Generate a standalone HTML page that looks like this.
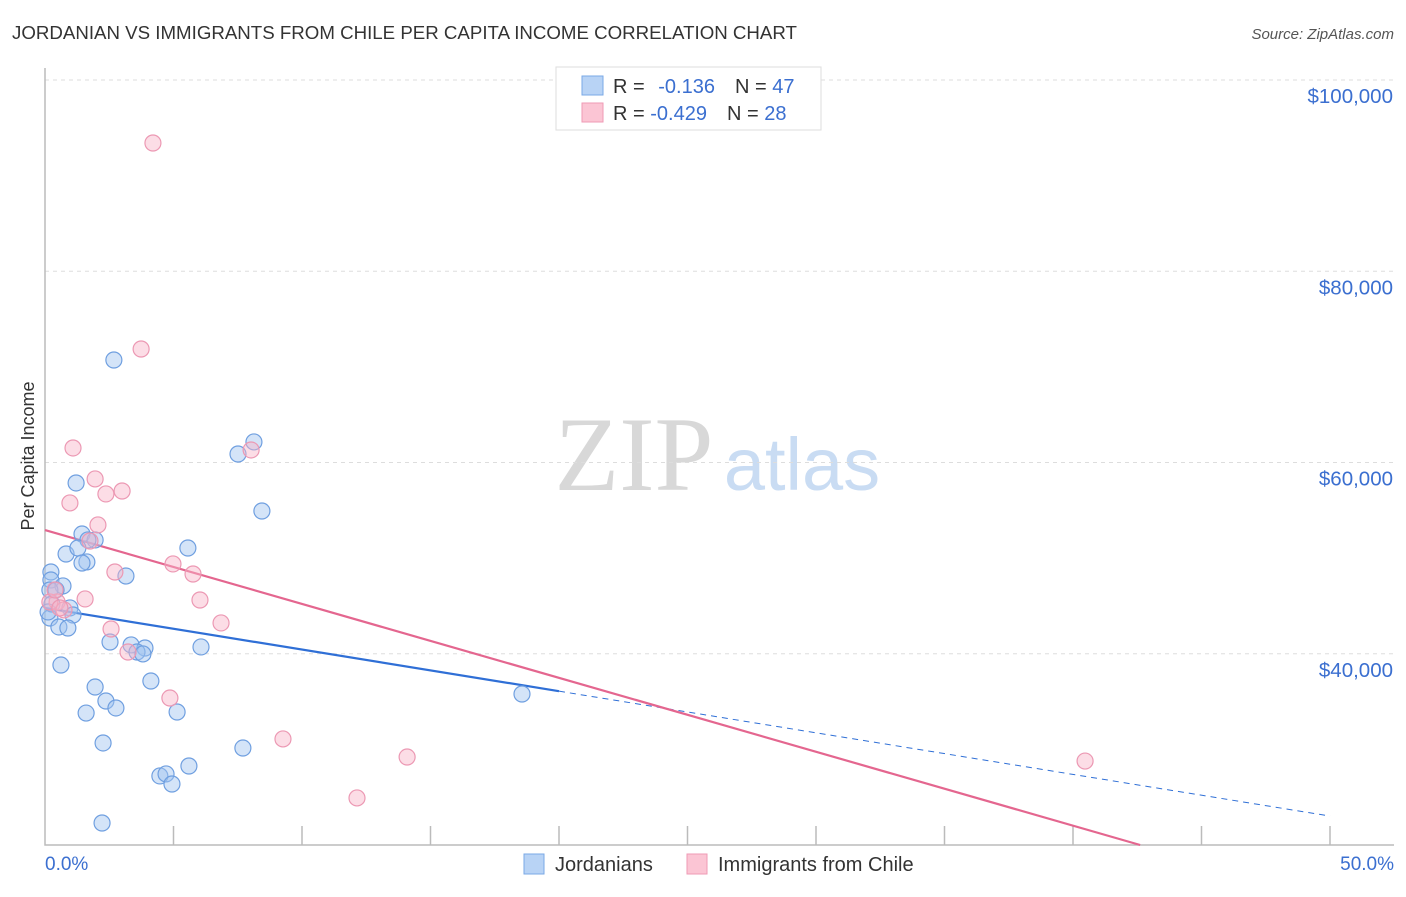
<!DOCTYPE html>
<html><head><meta charset="utf-8">
<style>
body{margin:0;background:#fff;font-family:"Liberation Sans",sans-serif;}
svg text{font-family:"Liberation Sans",sans-serif;}
</style></head>
<body>
<svg id="chart" width="1406" height="892" xmlns="http://www.w3.org/2000/svg">
<text x="12" y="39" font-size="18.7" fill="#333">JORDANIAN VS IMMIGRANTS FROM CHILE PER CAPITA INCOME CORRELATION CHART</text>
<text x="1394" y="39" font-size="15" fill="#555" text-anchor="end" font-style="italic">Source: ZipAtlas.com</text>
<g>
<text x="634" y="490" font-size="106" fill="#d8d8d8" text-anchor="middle" font-family="Liberation Serif" style="font-family:'Liberation Serif',serif">ZIP</text>
<text x="802" y="490" font-size="74" fill="#c9dcf3" text-anchor="middle">atlas</text>
</g>
<g id="grid"></g>
<g id="axes"></g>
<g id="lines"></g>
<g id="points"></g>
<text transform="translate(34,456) rotate(-90)" font-size="18" fill="#333" text-anchor="middle">Per Capita Income</text>
<text x="45" y="870" font-size="19" fill="#3b6fd0">0.0%</text>
<text x="1394" y="870" font-size="19" fill="#3b6fd0" text-anchor="end">50.0%</text>
<g>
<rect x="556" y="67" width="265" height="63" fill="#fff" stroke="#ddd"/>
<rect x="582" y="76" width="21" height="19" fill="#b8d3f5" stroke="#7aa8e6"/>
<rect x="582" y="103" width="21" height="19" fill="#fbc5d4" stroke="#ef9ab5"/>
<text x="613" y="93" font-size="20" fill="#333">R = <tspan fill="#3b6fd0" dx="8">-0.136</tspan><tspan dx="20" fill="#333">N = </tspan><tspan fill="#3b6fd0">47</tspan></text>
<text x="613" y="120" font-size="20" fill="#333">R = <tspan fill="#3b6fd0">-0.429</tspan><tspan dx="20" fill="#333">N = </tspan><tspan fill="#3b6fd0">28</tspan></text>
</g>
<g>
<rect x="524" y="854" width="20" height="20" fill="#b8d3f5" stroke="#7aa8e6"/>
<text x="555" y="871" font-size="20" fill="#333">Jordanians</text>
<rect x="687" y="854" width="20" height="20" fill="#fbc5d4" stroke="#ef9ab5"/>
<text x="718" y="871" font-size="20" fill="#333">Immigrants from Chile</text>
</g>
</svg>
<script>
const yTicks=[40000,60000,80000,100000];
const yTickLabels=["$40,000","$60,000","$80,000","$100,000"];
const blueX=[2.68,8.13,7.51,8.44,1.21,1.44,1.95,1.67,0.82,1.28,5.56,1.63,1.44,3.15,0.23,0.23,0.70,0.19,0.43,0.97,1.09,0.19,0.54,0.89,2.53,3.35,3.89,3.58,3.81,6.07,0.62,1.95,4.12,2.37,2.76,1.60,5.14,18.56,2.26,7.70,5.60,4.47,4.71,4.94,2.22,0.27,0.12];
const blueY=[70720,62150,60890,54930,57860,52520,51900,51900,50430,51060,51060,49600,49490,48130,48550,47710,47090,46670,46670,44790,44050,43740,42800,42690,41230,40920,40600,40180,39980,40710,38820,36520,37150,35060,34330,33800,33910,35790,30670,30140,28260,27220,27430,26380,22300,45200,44370];
const pinkX=[4.20,3.74,1.09,8.02,1.95,3.00,2.37,0.97,2.06,1.75,4.98,2.72,5.76,1.56,6.03,0.47,0.74,6.85,2.57,3.23,4.86,9.26,14.09,12.14,40.47,0.19,0.39,0.58];
const pinkY=[93410,71870,61520,61310,58280,57020,56710,55770,53470,51790,49390,48550,48340,45730,45620,45410,44580,43220,42590,40180,35370,31090,29200,24920,28780,45410,46670,44790];
const blueLine=[44790,23030];
const pinkLine=[52940,14290];
const NS="http://www.w3.org/2000/svg";
const X=v=>45+v/50*1285;
const Y=v=>845-(v-20000)/80000*765;
function mk(t,a,p){const e=document.createElementNS(NS,t);for(const k in a)e.setAttribute(k,a[k]);p.appendChild(e);return e;}
const grid=document.getElementById('grid'),axes=document.getElementById('axes');
yTicks.forEach((t,i)=>{
 const l=mk('line',{x1:45,x2:1394,y1:Y(t),y2:Y(t),stroke:'#ddd','stroke-dasharray':'4,4'},grid);
 
 
 const tx=mk('text',{x:1393,y:Y(t)+23,'font-size':20.5,fill:'#3b6fd0','text-anchor':'end'},axes);
 tx.textContent=yTickLabels[i];
 
 
});
const ax=mk('path',{d:'M45,68V845H1394',fill:'none',stroke:'#bbb','stroke-width':1.5},axes);


for(let i=1;i<=10;i++){
 const t=mk('line',{x1:X(i*5),x2:X(i*5),y1:826,y2:845,stroke:'#bbb','stroke-width':1.5},axes);
 
 
}
const lines=document.getElementById('lines');
const bs=mk('line',{x1:X(0),y1:Y(blueLine[0]),x2:X(20),y2:Y(blueLine[0]+(blueLine[1]-blueLine[0])*0.4),stroke:'#2f6fd6','stroke-width':2.2},lines);


const bd=mk('line',{x1:X(20),y1:Y(blueLine[0]+(blueLine[1]-blueLine[0])*0.4),x2:X(50),y2:Y(blueLine[1]),stroke:'#2f6fd6','stroke-width':1,'stroke-dasharray':'6,5'},lines);


const fz=(20000-pinkLine[0])/(pinkLine[1]-pinkLine[0])*50;
const pl=mk('line',{x1:X(0),y1:Y(pinkLine[0]),x2:X(fz),y2:Y(20000),stroke:'#e4668f','stroke-width':2.2},lines);


const pts=document.getElementById('points');
blueX.forEach((x,i)=>{
 const c=mk('circle',{cx:X(x),cy:Y(blueY[i]),r:8,fill:'rgba(160,195,240,0.45)',stroke:'#6f9fe0','stroke-width':1.2},pts);
 
 
});
pinkX.forEach((x,i)=>{
 const c=mk('circle',{cx:X(x),cy:Y(pinkY[i]),r:8,fill:'rgba(248,180,200,0.45)',stroke:'#ec98b3','stroke-width':1.2},pts);
 
 
});
</script>
</body></html>
